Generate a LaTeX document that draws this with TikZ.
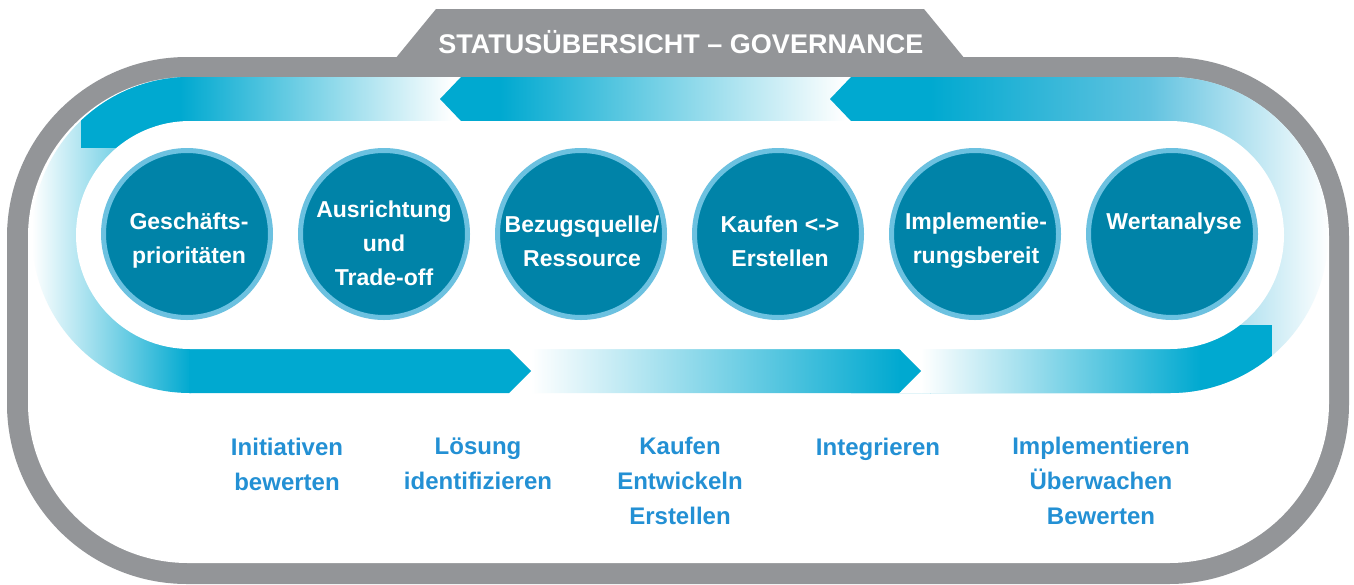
\documentclass[tikz,border=0pt]{standalone}
\usepackage{fontspec}
\setmainfont{Liberation Sans}
\definecolor{framegray}{HTML}{939598}
\definecolor{bandblue}{HTML}{00A9D0}
\definecolor{bandmid}{HTML}{62C3E0}
\definecolor{discfill}{HTML}{0083A8}
\definecolor{discrim}{HTML}{6CC1E0}
\definecolor{labelblue}{HTML}{2390D4}
\tikzset{
  disc/.style={circle, fill=discfill, draw=discrim, line width=5pt, minimum size=167pt, inner sep=0pt},
  disctext/.style={text=white, font=\bfseries\fontsize{23}{34}\selectfont, align=center, inner sep=0pt},
  steptext/.style={text=labelblue, font=\bfseries\fontsize{24}{35}\selectfont, align=center, inner sep=0pt},
  titletext/.style={text=white, font=\bfseries\fontsize{27}{30}\selectfont, inner sep=0pt}
}
\begin{document}
\begin{tikzpicture}[x=1pt,y=-1pt]
\useasboundingbox (0,0) rectangle (1354,584);

% gray frame with the title tab
\fill[framegray] (395,59) -- (436,9) -- (924,9) -- (965,59) -- cycle;
\fill[framegray, rounded corners=180pt] (7,57) rectangle (1349,584);
\fill[white, rounded corners=160pt] (28,77) rectangle (1329,563);

% the loop of arrows, kept inside the outer stadium
\begin{scope}
  \clip[rounded corners=158pt] (32,77) rectangle (1328,393);
  % left bend
  \shade[left color=white, right color=bandblue] (32,70) rectangle (191,400);
  % upper band, left piece
  \fill[bandblue] (81,70) rectangle (181,148);
  \shade[left color=bandblue, right color=white] (180,70) rectangle (452,148);
  % upper band, middle arrow
  \begin{scope}
    \clip (440,99) -- (461,77) -- (852,77) -- (852,125) -- (461,125) -- (461,121) -- cycle;
    \fill[bandblue] (438,70) rectangle (501,130);
    \shade[left color=bandblue, right color=white] (500,70) rectangle (845,130);
  \end{scope}
  % upper band, right arrow and right bend
  \begin{scope}
    \clip (830,99) -- (851,77) -- (1340,77) -- (1340,400) -- (851,400) -- (851,121) -- cycle;
    \fill[bandblue] (828,70) rectangle (931,400);
    \shade[left color=bandblue, right color=bandmid] (930,70) rectangle (1151,400);
    \shade[left color=bandmid, right color=white] (1150,70) rectangle (1330,400);
  \end{scope}
  % lower band, right piece
  \fill[white] (897,325) rectangle (922,400);
  \shade[left color=white, right color=bandblue] (921,325) rectangle (1201,400);
  \fill[bandblue] (1200,325) rectangle (1272,400);
  % lower band, middle arrow
  \begin{scope}
    \clip (505,345) -- (899,345) -- (899,349) -- (921,371) -- (899,393) -- (505,400) -- cycle;
    \fill[white] (500,340) rectangle (532,400);
    \shade[left color=white, right color=bandblue] (531,340) rectangle (901,400);
    \fill[bandblue] (900,340) rectangle (925,400);
  \end{scope}
  % lower band, left arrow
  \fill[bandblue] (189,345) -- (509,345) -- (509,349) -- (531,371) -- (509,393) -- (509,400) -- (189,400) -- cycle;
  % white inside of the loop
  \fill[white, rounded corners=114pt] (76,121) rectangle (1284,349);
\end{scope}

% title
\node[titletext] (title) at (681,42) {STATUSÜBERSICHT – GOVERNANCE};

% process discs
\node[disc] (c1) at (187,234) {};
\node[disc] (c2) at (384,234) {};
\node[disc] (c3) at (581,234) {};
\node[disc] (c4) at (778,234) {};
\node[disc] (c5) at (975,234) {};
\node[disc] (c6) at (1172,234) {};

\node[disctext] (d1) at (189,241) {Geschäfts-\\prioritäten};
\node[disctext] (d2) at (384,243) {Ausrichtung\\und\\Trade-off};
\node[disctext] (d3) at (582,241) {Bezugsquelle/\\Ressource};
\node[disctext] (d4) at (780,241) {Kaufen <->\\Erstellen};
\node[disctext] (d5) at (976,241) {Implementie-\\rungsbereit};
\node[disctext] (d6) at (1174,224) {Wertanalyse};

% activities under the loop
\node[steptext] (s1) at (287,464) {Initiativen\\bewerten};
\node[steptext] (s2) at (478,464) {Lösung\\identifizieren};
\node[steptext] (s3) at (680,481) {Kaufen\\Entwickeln\\Erstellen};
\node[steptext] (s4) at (878,449) {Integrieren};
\node[steptext] (s5) at (1101,481) {Implementieren\\Überwachen\\Bewerten};
\end{tikzpicture}
\end{document}
